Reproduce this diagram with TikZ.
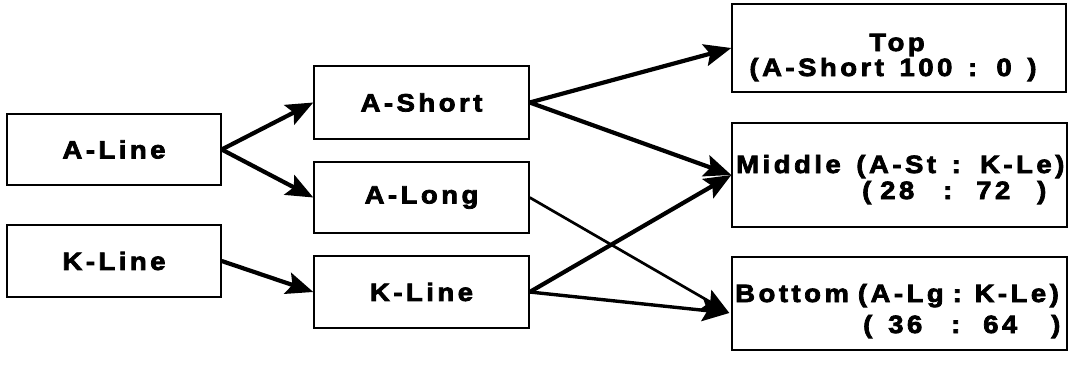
\documentclass[tikz,border=0pt]{standalone}
\usepackage{fontspec}
\usetikzlibrary{arrows.meta,calc}
\newfontfamily\boxfont[LetterSpace=14,FakeBold=3,FakeStretch=1.1,WordSpace=1.4]{Liberation Sans Bold}
% place a piece of text at a fixed offset from the start of the line
\newcommand\pl[2]{\rlap{\hspace*{#1}#2}}
\begin{document}
\begin{tikzpicture}[x=1pt,y=-1pt,
  box/.style={draw=black, line width=1.4pt, rectangle, inner sep=0pt,
    font=\boxfont\fontsize{25}{28}\selectfont},
  txt/.style={inner sep=0pt, anchor=base west,
    font=\boxfont\fontsize{25}{28}\selectfont},
  head/.style={-{Stealth[length=27pt,width=22pt,inset=5pt]}},
  flow/.style={head, line width=4.2pt},
  flowmid/.style={head, line width=3.4pt},
  flowthin/.style={head, line width=2.7pt}]
\useasboundingbox (0,0) rectangle (1084,370);

% source lines
\node[box, minimum width=214pt, minimum height=71pt] (aline) at (114,149.5) {A-Line};
\node[box, minimum width=214pt, minimum height=72pt] (kline) at (114,261) {K-Line};

% intermediate lengths
\node[box, minimum width=215pt, minimum height=73pt] (ashort) at (421.5,102.5) {A-Short};
\node[box, minimum width=215pt, minimum height=71pt] (along) at (421.5,197.5) {A-Long};
\node[box, minimum width=215pt, minimum height=72pt] (kline2) at (421.5,292) {K-Line};

% output positions
\node[box, minimum width=334pt, minimum height=88pt] (top) at (899,48) {};
\node[box, minimum width=335pt, minimum height=104pt] (mid) at (899.5,175) {};
\node[box, minimum width=335pt, minimum height=93pt] (bot) at (899.5,303.5) {};

\node[txt, anchor=base] (topl1) at (897,51) {Top};
\node[txt, anchor=base] (topl2) at (893,76) {(A-Short 100 : 0 )};
\node[txt] (midl1) at (736,173) {Middle (A-St : K-Le)};
\node[txt] (midl2) at (862,199)
  {\pl{0pt}{(}\pl{18pt}{28}\pl{81pt}{:}\pl{114pt}{72}\pl{175pt}{)}\hspace*{185pt}};
\node[txt] (botl1) at (735,302) {\spaceskip=9pt\relax Bottom (A-Lg : K-Le)};
\node[txt] (botl2) at (863,333)
  {\pl{0pt}{(}\pl{25pt}{36}\pl{88pt}{:}\pl{120pt}{64}\pl{188pt}{)}\hspace*{198pt}};

\coordinate (botin) at ($(bot.west)+(-2,9.5)$);

% connectors
\draw[flow] (aline.east) -- (ashort.west);
\draw[flow] (aline.east) -- (along.west);
\draw[flow] (kline.east) -- (kline2.west);
\draw[flow] (ashort.east) -- (top.west);
\draw[flow] (ashort.east) -- (mid.west);
\draw[flowthin] (along.east) -- (botin);
\draw[flow] (kline2.east) -- (mid.west);
\draw[flowmid] (kline2.east) -- (botin);
\end{tikzpicture}
\end{document}
